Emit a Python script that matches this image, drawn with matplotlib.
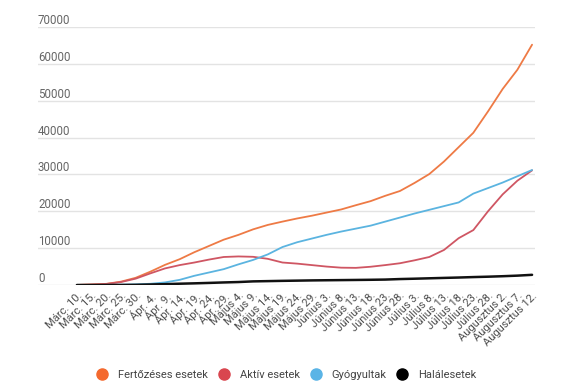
import matplotlib
matplotlib.use("Agg")
import matplotlib.pyplot as plt
from matplotlib.lines import Line2D
from matplotlib.transforms import blended_transform_factory

plt.rcParams['font.family'] = ['Roboto', 'DejaVu Sans']

# --- adatok (5 naponkénti értékek) ---
datumok = [
    "Márc. 10.", "Márc. 15.", "Márc. 20.", "Márc. 25.", "Márc. 30.",
    "Ápr. 4.", "Ápr. 9.", "Ápr. 14.", "Ápr. 19.", "Ápr. 24.", "Ápr. 29.",
    "Május 4.", "Május 9.", "Május 14.", "Május 19.", "Május 24.", "Május 29.",
    "Június 3.", "Június 8.", "Június 13.", "Június 18.", "Június 23.", "Június 28.",
    "Július 3.", "Július 8.", "Július 13.", "Július 18.", "Július 23.", "Július 28.",
    "Augusztus 2.", "Augusztus 7.", "Augusztus 12.",
]

fertozes = [15, 131, 308, 906, 1952, 3613, 5467, 7000, 8900, 10600, 12300,
            13600, 15100, 16300, 17200, 18050, 18800, 19650, 20500, 21650, 22750,
            24200, 25500, 27700, 30100, 33500, 37400, 41300, 47100, 53200, 58400, 65200]

aktiv = [12, 120, 275, 800, 1720, 3150, 4500, 5400, 6100, 6900, 7600,
         7750, 7650, 7100, 6100, 5800, 5400, 5000, 4700, 4650, 4950,
         5400, 5900, 6700, 7600, 9500, 12700, 14900, 20000, 24600, 28300, 31100]

gyogyult = [3, 9, 31, 86, 180, 330, 700, 1400, 2500, 3400, 4300,
            5600, 6800, 8300, 10300, 11600, 12600, 13600, 14500, 15300, 16100,
            17200, 18300, 19400, 20400, 21400, 22400, 24800, 26300, 27800, 29500, 31200]

halal = [0, 0, 0, 11, 44, 133, 229, 351, 451, 567, 693,
         803, 982, 1052, 1126, 1185, 1247, 1290, 1329, 1369, 1415,
         1473, 1612, 1708, 1817, 1924, 2027, 2149, 2254, 2384, 2540, 2761]

yticks = [0, 10000, 20000, 30000, 40000, 50000, 60000, 70000]

sorozatok = [
    ("Fertőzéses esetek", fertozes, '#ee7a45', '#f4692e'),
    ("Aktív esetek", aktiv, '#cf5663', '#d9464f'),
    ("Gyógyultak", gyogyult, '#5bb4e0', '#5ab4e6'),
    ("Halálesetek", halal, '#111111', '#000000'),
]

fig = plt.figure(figsize=(5.75, 3.87), dpi=100)
ax = fig.add_axes([38 / 575, 1 - 285 / 387, (535 - 38) / 575, (285 - 27) / 387])

x = list(range(len(datumok)))
for nev, ertek, szin, _ in sorozatok:
    lw = 1.8 if nev == "Halálesetek" else 1.3
    ax.plot(x, ertek, color=szin, lw=lw, solid_capstyle='round', zorder=3)

ax.set_xlim(-2.65, 31.2)
ax.set_ylim(0, 70000)

for s in ax.spines.values():
    s.set_visible(False)

ax.set_yticks(yticks)
ax.yaxis.grid(True, color='#e3e3e3', lw=1)
ax.set_axisbelow(True)
ax.tick_params(axis='y', length=0, labelleft=False)

trans = blended_transform_factory(ax.transAxes, ax.transData)
for v in yticks:
    ax.text(0.0, v + 800, str(v), transform=trans, ha='left', va='baseline',
            fontsize=8.3, color='#666666')

ax.set_xticks(x)
ax.set_xticklabels(datumok, rotation=45, ha='right', va='top',
                   rotation_mode='anchor', fontsize=8, color='#4d4d4d')
ax.tick_params(axis='x', length=0, pad=4)

handles = [Line2D([], [], ls='none', marker='o', markersize=8,
                  markerfacecolor=jel, markeredgecolor=jel) for _, _, _, jel in sorozatok]
fig.legend(handles, [s[0] for s in sorozatok], loc='center',
           bbox_to_anchor=(286.5 / 575, 1 - 375 / 387), ncol=4, frameon=False,
           fontsize=8, handlelength=1.0, handletextpad=0.9, columnspacing=0.95,
           labelcolor='#444444')

fig.savefig('out.png', dpi=100, facecolor='white')
